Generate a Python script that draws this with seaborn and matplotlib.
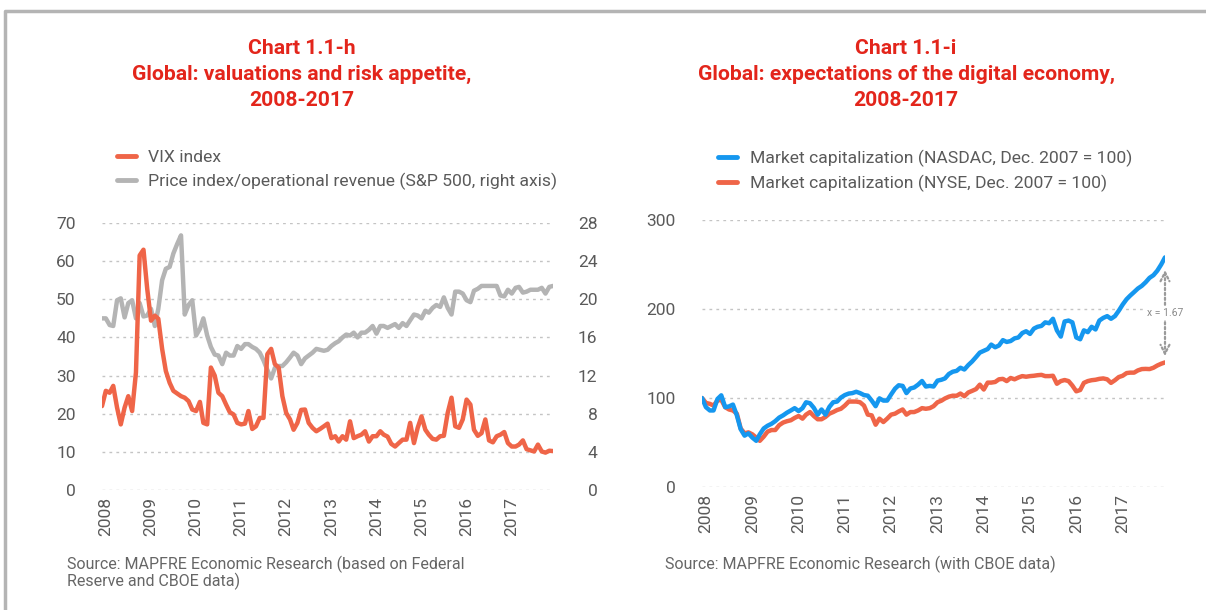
import numpy as np
import pandas as pd
import matplotlib.pyplot as plt
import seaborn as sns
from matplotlib.lines import Line2D

# monthly observations, Dec 2007 - Dec 2017
months = pd.date_range("2007-12-01", periods=121, freq="MS")
years = list(range(2008, 2018))

vix = [22, 26, 25.5, 27.3, 21.6, 17.2, 21.6, 24.6, 20.7, 30.8,
       61.5, 63, 52.8, 44.4, 45.7, 44.9, 37, 31.2, 28.1, 26,
       25.3, 24.6, 24.2, 23.3, 21.1, 20.7, 23.1, 17.6, 17.2, 32.1,
       30, 25.5, 24.6, 22.4, 20.4, 19.8, 17.6, 17.2, 17.4, 20.7,
       16, 16.7, 18.9, 18.9, 35.6, 37, 33, 32.1, 24.6, 20.2,
       18.5, 15.8, 17.6, 21, 21.1, 17.6, 16.3, 15.4, 16, 16.7,
       17.4, 13.6, 14.1, 12.7, 14.1, 13.2, 18, 13.6, 14.1, 14.5,
       15.4, 12.7, 14.1, 14.1, 15.4, 14.5, 14, 12.1, 11.4, 12.3,
       13.2, 13.2, 17.6, 12.3, 16.3, 19.3, 15.8, 14.5, 13.4, 13.2,
       14.1, 14.2, 20.2, 24.2, 16.7, 16.3, 18.5, 23.7, 22.4, 15.8,
       14.2, 14.9, 18.5, 13, 12.5, 14.1, 14.5, 15.2, 12.3, 11.4,
       11.4, 11.9, 13, 10.7, 10.4, 10.1, 11.9, 10.1, 9.8, 10.3,
       10.2]

# S&P 500 price / operational revenue (right axis)
sp_ratio = [18.0, 18.0, 17.3, 17.2, 19.9, 20.1, 18.1, 19.6, 19.9, 18.0,
            19.6, 18.2, 18.3, 19.0, 17.2, 19.0, 22.0, 23.2, 23.4, 24.8,
            25.8, 26.7, 18.4, 19.4, 19.9, 16.2, 16.9, 18.0, 16.2, 15.0,
            14.2, 14.1, 13.2, 14.4, 14.1, 14.1, 15.1, 14.8, 15.3, 15.3,
            15.0, 14.8, 14.4, 13.6, 12.6, 11.7, 12.8, 13.0, 13.0, 13.4,
            13.9, 14.4, 14.1, 13.2, 13.8, 14.1, 14.4, 14.8, 14.7, 14.6,
            14.7, 15.1, 15.4, 15.6, 16.0, 16.3, 16.2, 16.5, 16.0, 16.5,
            16.5, 16.8, 17.2, 16.4, 17.2, 17.2, 17.0, 17.2, 17.4, 17.0,
            17.5, 17.2, 17.8, 18.4, 18.3, 18.0, 18.8, 18.6, 19.1, 19.4,
            19.2, 20.2, 19.1, 18.4, 20.8, 20.8, 20.6, 19.9, 19.7, 20.9,
            21.1, 21.4, 21.4, 21.4, 21.4, 21.4, 20.4, 20.3, 21.0, 20.6,
            21.2, 21.3, 20.7, 20.8, 21.0, 21.0, 21.0, 21.2, 20.6, 21.3,
            21.4]

nasdaq = [100, 89.7, 86, 86, 98.9, 103, 89.7, 90.5, 92.6, 80.5,
          65, 57.7, 60.3, 55.5, 51.9, 59.2, 65.8, 68.8, 71, 74,
          78, 80.5, 83.5, 86, 88.6, 85.3, 88.6, 95.2, 94.1, 89,
          81.3, 87.1, 81.3, 90, 95.2, 96, 100.5, 103.3, 105, 105.5,
          107, 105.5, 103.3, 102.6, 97.1, 90.8, 99.6, 97.1, 97.1, 104,
          110.5, 114.3, 113.6, 105.5, 110.7, 111.8, 115, 119.1, 112.9, 113.6,
          112.9, 119.5, 120.5, 122, 127, 129.5, 130.5, 134, 132, 137,
          141, 146, 151, 153, 155, 160, 157, 159, 165, 163,
          164, 167, 168, 173, 175, 172, 178, 180, 181, 185,
          184, 189, 176, 169, 186, 187, 185, 168, 166, 176,
          174, 180, 177, 187, 190, 192, 189, 192, 198, 205,
          211, 215, 219, 223, 226, 230, 235, 238, 243, 250,
          258]

nyse = [100, 94.5, 93.4, 91.5, 97.1, 98, 89.7, 87.1, 86, 82.4,
        65.8, 60.3, 61.4, 59.2, 55.5, 51.9, 56.6, 62.2, 64, 64,
        69.5, 72.4, 73.9, 75, 77.6, 79.8, 76.8, 81.3, 84.2, 79.8,
        76.1, 76.1, 78.7, 82.4, 84.2, 86.5, 87.9, 91.5, 96, 96,
        96, 95.2, 91.5, 81.3, 80.5, 70, 76.8, 73, 76.8, 81.3,
        82.4, 84.9, 87.1, 81.3, 84.2, 84.2, 86, 88.6, 87.9, 88.6,
        90.8, 95.2, 97, 99.5, 101.5, 102.6, 102.5, 105, 102, 106.2,
        108, 110, 115, 109.5, 117.3, 117.3, 118, 121, 121.5, 119,
        122.5, 121, 123, 124.6, 123.9, 124.6, 125, 125.6, 126, 124.6,
        124.6, 125, 116, 119, 120.2, 119, 114, 107.5, 109, 117,
        119, 120, 120.5, 121.5, 122, 121, 117, 120, 123.5, 125,
        128, 128.5, 128.5, 131, 132.5, 132.7, 132.5, 134, 136.5, 138.5,
        140]

TITLE_RED = "#e3251b"
RED = "#ef6548"
BLUE = "#1597ef"
GREY = "#b4b4b4"
TXT = "#5a5a5a"

sns.set_style("white")
plt.rcParams["font.family"] = ["Roboto", "DejaVu Sans"]

W, H = 1206, 610
fig = plt.figure(figsize=(W / 100, H / 100), dpi=100)


def box(l, t, r, b):
    return [l / W, 1 - b / H, (r - l) / W, (b - t) / H]


def grid_style(ax):
    ax.grid(axis="y", color="#c4c4c4", linestyle=(0, (2, 3)), linewidth=1)
    ax.grid(axis="x", visible=False)
    for s in ax.spines.values():
        s.set_visible(False)
    ax.tick_params(length=0, labelcolor=TXT, labelsize=12.5)


# ---------- left chart ----------
ax2 = fig.add_axes(box(102, 223, 553, 490))
ax1 = ax2.twinx()
ax1.set_zorder(ax2.get_zorder() + 1)
ax1.patch.set_visible(False)

sns.lineplot(x=months, y=sp_ratio, ax=ax2, color=GREY, linewidth=3.2)
sns.lineplot(x=months, y=vix, ax=ax1, color=RED, linewidth=3.2)

grid_style(ax2)
grid_style(ax1)
ax1.grid(False)

# the twin sits on the right by default: put vix on the left
ax1.yaxis.set_ticks_position("left")
ax2.yaxis.set_ticks_position("right")
ax1.set_ylim(0, 70)
ax1.set_yticks(range(0, 80, 10))
ax2.set_ylim(0, 28)
ax2.set_yticks(range(0, 32, 4))
ax1.tick_params(axis="y", pad=19)
ax2.tick_params(axis="y", pad=32)
for t in ax2.get_yticklabels():
    t.set_ha("right")
for a in (ax1, ax2):
    a.set_ylabel("")
    a.set_xlabel("")

ticks = [pd.Timestamp(f"{y}-01-01") for y in years]
ax2.set_xlim(months[0], months[-1])
ax2.set_xticks(ticks)
ax2.set_xticklabels([str(y) for y in years], rotation=90)
ax2.tick_params(axis="x", pad=5)
ax1.set_xlim(months[0], months[-1])

# ---------- right chart ----------
ax3 = fig.add_axes(box(702, 220, 1165, 487))
sns.lineplot(x=months, y=nyse, ax=ax3, color=RED, linewidth=3.2)
sns.lineplot(x=months, y=nasdaq, ax=ax3, color=BLUE, linewidth=3.2)
grid_style(ax3)
ax3.set_ylim(0, 300)
ax3.set_yticks([0, 100, 200, 300])
ax3.tick_params(axis="y", pad=19)
ax3.set_xlim(months[0], months[-1])
ax3.set_xticks(ticks)
ax3.set_xticklabels([str(y) for y in years], rotation=90)
ax3.tick_params(axis="x", pad=5)
ax3.set_ylabel("")
ax3.set_xlabel("")

top = nasdaq[-1] - 14
bot = nyse[-1] + 7
ax3.annotate("", xy=(months[-1], top), xytext=(months[-1], bot),
             arrowprops=dict(arrowstyle="<->", color="#9a9a9a", lw=1.6,
                             linestyle=(0, (1, 1.2)), mutation_scale=16,
                             shrinkA=0, shrinkB=0))
ax3.text(months[-1], (top + bot) / 2, "x = 1.67", ha="center", va="center",
         fontsize=7.5, color="#8a8a8a",
         bbox=dict(facecolor="white", edgecolor="none", pad=1.5))

# ---------- legends ----------
leg_kw = dict(loc="upper left", frameon=False, fontsize=12.6, handlelength=1.1,
              handletextpad=0.7, labelspacing=0.45, borderpad=0,
              borderaxespad=0, labelcolor=TXT)
fig.legend([Line2D([0], [0], color=RED, lw=3.5), Line2D([0], [0], color=GREY, lw=3.5)],
           ["VIX index", "Price index/operational revenue (S&P 500, right axis)"],
           bbox_to_anchor=(117 / W, 1 - 150 / H), **leg_kw)
fig.legend([Line2D([0], [0], color=BLUE, lw=3.5), Line2D([0], [0], color=RED, lw=3.5)],
           ["Market capitalization (NASDAC, Dec. 2007 = 100)",
            "Market capitalization (NYSE, Dec. 2007 = 100)"],
           bbox_to_anchor=(718 / W, 1 - 150 / H), **leg_kw)

# ---------- titles and sources ----------
left_title = ["Chart 1.1-h", "Global: valuations and risk appetite,", "2008-2017"]
right_title = ["Chart 1.1-i", "Global: expectations of the digital economy,", "2008-2017"]
for i, (a, b) in enumerate(zip(left_title, right_title)):
    y = 1 - (48 + 26 * i) / H
    fig.text(302 / W, y, a, ha="center", va="center", fontsize=15.2,
             fontweight="bold", color=TITLE_RED)
    fig.text(906 / W, y, b, ha="center", va="center", fontsize=15.2,
             fontweight="bold", color=TITLE_RED)

src_kw = dict(va="center", fontsize=11.5, color="#666666")
fig.text(67 / W, 1 - 564 / H, "Source: MAPFRE Economic Research (based on Federal", **src_kw)
fig.text(67 / W, 1 - 581 / H, "Reserve and CBOE data)", **src_kw)
fig.text(665 / W, 1 - 564 / H, "Source: MAPFRE Economic Research (with CBOE data)", **src_kw)

# panel frame
fig.add_artist(Line2D([4.5 / W, 4.5 / W, 1], [0, 1 - 11 / H, 1 - 11 / H],
                      transform=fig.transFigure, color="#b4b4b4", lw=2.5))

fig.savefig("out.png", dpi=100)
